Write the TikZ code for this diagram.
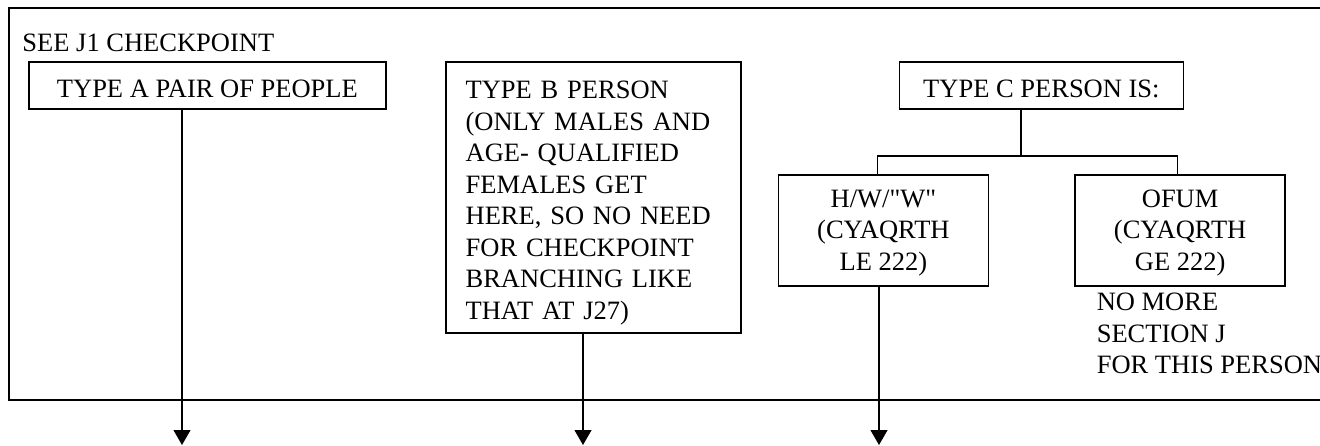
\documentclass[tikz,border=0pt]{standalone}
\usepackage{fontspec}
\setmainfont{Liberation Serif}[Ligatures=TeXOff]
\usepackage{tikz}
\usetikzlibrary{arrows.meta, positioning}

\begin{document}
\begin{tikzpicture}[
  x=0.4pt, y=-0.4pt,
  font=\fontsize{10.6pt}{12.6pt}\selectfont,
  frame/.style={line width=0.8pt},
  choice/.style={rectangle, draw, line width=0.7pt, inner sep=0pt, text height=10pt, text depth=0pt, minimum height=18.8pt},
  detail/.style={rectangle, draw, line width=0.7pt, inner xsep=8pt, inner ysep=0pt, text height=11.5pt, align=left},
  branch/.style={rectangle, draw, line width=0.7pt, minimum width=84pt, minimum height=44.4pt, inner sep=0pt, text depth=-3pt, align=center},
  note/.style={inner sep=0pt, align=left},
  link/.style={line width=0.5pt},
  arrow/.style={-{Triangle[length=6pt, width=6.8pt]}, line width=0.45pt}
]
  \useasboundingbox (0,0) rectangle (1320,446);
  \draw[frame] (1330,8) -| (9,400) -- (1330,400);

  \node[note, anchor=base west] (see) at (22,52) {SEE J1 CHECKPOINT};
  \node[choice, minimum width=142.8pt, anchor=north west] (pairA) at (28,61) {TYPE A PAIR OF PEOPLE\hspace{4pt}};
  \node[detail, text width=102pt, minimum height=108.4pt, right=23.2pt of pairA.north east, anchor=north west] (personB)
    {TYPE B PERSON\\(ONLY MALES AND\\AGE- QUALIFIED\\FEMALES GET\\HERE, SO NO NEED\\FOR CHECKPOINT\\BRANCHING LIKE\\THAT AT J27)};
  \node[choice, minimum width=113.6pt, right=62.8pt of personB.north east, anchor=north west] (personC) {TYPE C PERSON IS:};

  \node[branch, below=25.6pt of personC.south, xshift=-63.2pt] (hw) {H/W/"W"\\(CYAQRTH\\LE 222)};
  \node[branch, right=34pt of hw] (ofum) {OFUM\\(CYAQRTH\\GE 222)};
  \node[note, anchor=north west] (nomore) at ([xshift=8.8pt, yshift=-2.4pt]ofum.south west) {NO MORE\\SECTION J\\FOR THIS PERSON};

  \coordinate (fork) at (1021,156);
  \coordinate (endA) at (182,445);
  \coordinate (endB) at (583,445);
  \coordinate (endC) at (879,445);

  \draw[link] (personC.south -| fork) -- (fork);
  \draw[link] ([xshift=-2.4pt]hw.north) |- (fork) -| ([xshift=-1.2pt]ofum.north);

  \draw[arrow] (pairA.south -| endA) -- (endA);
  \draw[arrow] (personB.south -| endB) -- (endB);
  \draw[arrow] (hw.south -| endC) -- (endC);
\end{tikzpicture}
\end{document}
